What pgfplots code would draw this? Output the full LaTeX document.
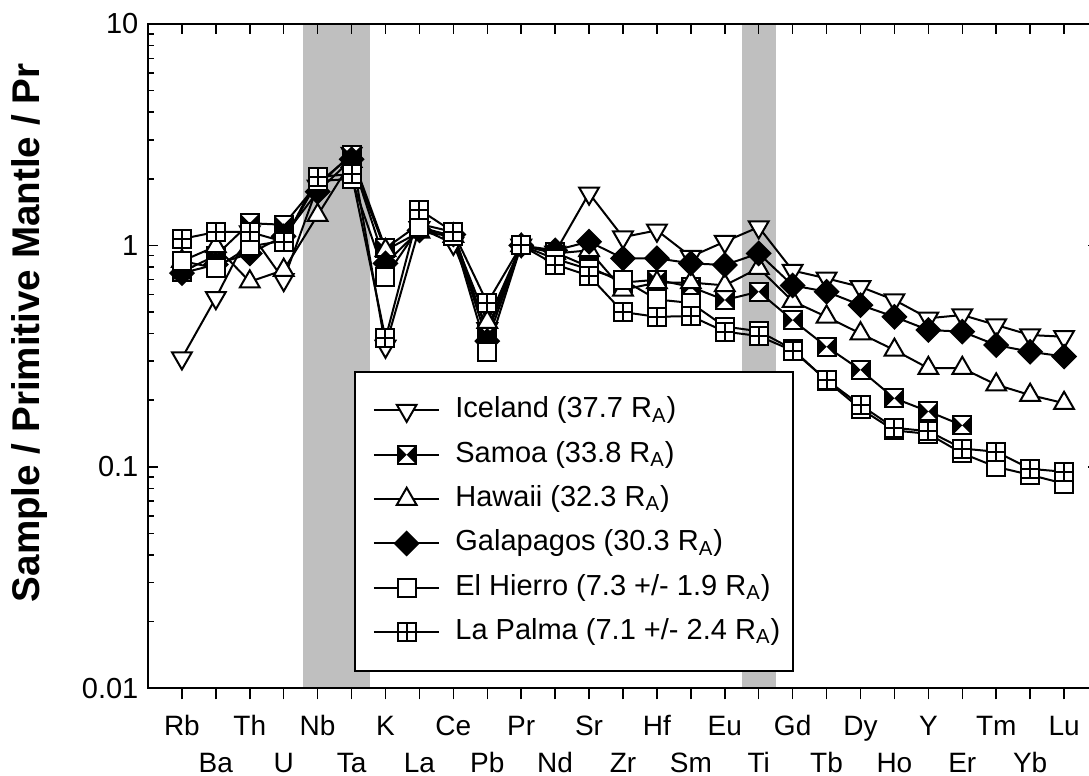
\documentclass[border=0pt]{standalone}
\usepackage{pgfplots}
\pgfplotsset{compat=1.18}
\usepackage{fontspec}
\setmainfont{Liberation Sans}

\pgfdeclareplotmark{sqplus}{%
  \pgfpathrectangle{\pgfqpoint{-\pgfplotmarksize}{-\pgfplotmarksize}}{\pgfqpoint{2\pgfplotmarksize}{2\pgfplotmarksize}}%
  \pgfusepathqfillstroke
  \pgfpathmoveto{\pgfqpoint{-\pgfplotmarksize}{0pt}}%
  \pgfpathlineto{\pgfqpoint{\pgfplotmarksize}{0pt}}%
  \pgfpathmoveto{\pgfqpoint{0pt}{-\pgfplotmarksize}}%
  \pgfpathlineto{\pgfqpoint{0pt}{\pgfplotmarksize}}%
  \pgfusepathqstroke
}
\pgfdeclareplotmark{bowsq}{%
  \pgfpathrectangle{\pgfqpoint{-\pgfplotmarksize}{-\pgfplotmarksize}}{\pgfqpoint{2\pgfplotmarksize}{2\pgfplotmarksize}}%
  \pgfusepathqfillstroke
  \pgfscope
  \pgfsetfillcolor{black}%
  \pgfpathmoveto{\pgfqpoint{-\pgfplotmarksize}{-\pgfplotmarksize}}%
  \pgfpathlineto{\pgfqpoint{0pt}{0pt}}%
  \pgfpathlineto{\pgfqpoint{-\pgfplotmarksize}{\pgfplotmarksize}}%
  \pgfpathclose
  \pgfpathmoveto{\pgfqpoint{\pgfplotmarksize}{-\pgfplotmarksize}}%
  \pgfpathlineto{\pgfqpoint{0pt}{0pt}}%
  \pgfpathlineto{\pgfqpoint{\pgfplotmarksize}{\pgfplotmarksize}}%
  \pgfpathclose
  \pgfusepathqfill
  \endpgfscope
}

\pgfplotstableread{
x  ice   sam   haw   gal   ehi   lpa
0  0.31  0.76  0.85  0.75  0.85  1.07
1  0.58  0.90  0.99  0.82  0.79  1.15
2  1.15  1.26  0.686 0.92  0.99  1.15
3  0.70  1.24  0.774 1.10  1.05  1.04
4  1.85  1.90  1.37  1.75  1.95  2.04
5  2.60  2.55  2.40  2.45  2.00  2.10
6  0.35  0.97  0.95  0.83  0.72  0.38
7  1.20  1.25  1.15  1.17  1.21  1.45
8  1.02  1.15  1.10  1.12  1.10  1.15
9  0.42  0.40  0.45  0.37  0.33  0.55
10 1.00  1.00  1.00  1.00  1.00  1.00
11 0.93  0.93  0.92  0.95  0.87  0.82
12 1.72  0.80  0.95  1.04  0.78  0.73
13 1.09  0.68  0.63  0.875 0.70  0.50
14 1.17  0.70  0.68  0.875 0.57  0.476
15 0.89  0.65  0.68  0.83  0.55  0.48
16 1.04  0.567 0.66  0.816 0.43  0.408
17 1.21  0.618 0.79  0.92  0.41  0.39
18 0.77  0.46  0.56  0.66  0.34  0.335
19 0.71  0.349 0.476 0.618 0.245 0.247
20 0.65  0.274 0.40  0.538 0.183 0.19
21 0.567 0.204 0.337 0.476 0.146 0.15
22 0.469 0.178 0.279 0.415 0.141 0.145
23 0.485 0.154 0.279 0.408 0.115 0.121
24 0.437 nan   0.235 0.355 0.10  0.117
25 0.394 nan   0.211 0.331 0.092 0.098
26 0.387 nan   0.194 0.315 0.084 0.095
}\data

\begin{document}
\begin{tikzpicture}
\pgfplotsset{
  base/.style={scale only axis, width=475pt, height=332.15pt,
    xmin=-1, xmax=27, axis line style={line width=1pt},
    every tick/.style={black, line width=0.75pt}},
  ser/.style={black, line width=1pt, mark options={solid, line width=1pt}},
}
% axis carrying the bottom ticks and their two rows of labels
\begin{axis}[base, ymin=0, ymax=1, ytick=\empty,
  xtick={0,2,...,26},
  xticklabels={Rb,Th,Nb,K,Ce,Pr,Sr,Hf,Eu,Gd,Dy,Y,Tm,Lu},
  extra x ticks={1,3,...,25},
  extra x tick labels={Ba,U,Ta,La,Pb,Nd,Zr,Sm,Ti,Tb,Ho,Er,Yb},
  extra x tick style={xticklabel style={yshift=-18.5pt}},
  xtick pos=lower, tick align=outside, major tick length=5.5pt,
  xticklabel shift=0pt,
  xticklabel style={font=\fontsize{14}{16}\selectfont, anchor=base, yshift=-18.35pt},
]
\end{axis}
% main axis with data
\begin{axis}[base, ymode=log, ymin=0.01, ymax=10,
  axis on top,
  xtick={0,...,26}, xticklabels={}, xtick pos=upper,
  tick align=inside, major tick length=5pt, minor tick length=3.2pt,
  ytick={0.01,0.1,1,10}, yticklabels={0.01,0.1,1,10},
  yticklabel style={font=\fontsize{14.5}{16}\selectfont, xshift=-1.3pt},
  ylabel={\textbf{Sample / Primitive Mantle / Pr}},
  ylabel style={at={(axis description cs:-0.1242,0.535)}, anchor=center,
    font=\fontsize{19.3}{22}\selectfont},
  legend style={at={(axis description cs:0.2168,0.4777)}, anchor=north west,
    draw=black, line width=1pt, fill=white,
    font=\fontsize{14.5}{17}\selectfont,
    inner xsep=6.5pt, inner ysep=12pt, row sep=7.67pt, column sep=7.5pt,
    nodes={inner sep=0pt, text height=11pt, text depth=3.5pt}},
  legend cell align=left,
  legend image code/.code={\path (-2.5pt,0pt); \draw[mark repeat=2,mark phase=2] plot coordinates {(0cm,0cm) (0.575cm,0cm) (1.15cm,0cm)};},
]
\addplot[draw=none, fill=black!25, forget plot] coordinates {(3.57,0.01) (5.53,0.01) (5.53,10) (3.57,10)} -- cycle;
\addplot[draw=none, fill=black!25, forget plot] coordinates {(16.5,0.01) (17.5,0.01) (17.5,10) (16.5,10)} -- cycle;

\addplot[ser, mark=triangle*, mark size=5.7pt, mark options={rotate=180, fill=white}] table[x=x, y=ice] {\data};
\addlegendentry{Iceland (37.7 R\textsubscript{A})}
\addplot[ser, mark=bowsq, mark size=4.5pt, mark options={fill=white}, unbounded coords=discard] table[x=x, y=sam] {\data};
\addlegendentry{Samoa (33.8 R\textsubscript{A})}
\addplot[ser, mark=triangle*, mark size=5.7pt, mark options={fill=white}] table[x=x, y=haw] {\data};
\addlegendentry{Hawaii (32.3 R\textsubscript{A})}
\addplot[ser, mark=square*, mark size=4.1pt, mark options={rotate=45, fill=black}] table[x=x, y=gal] {\data};
\addlegendentry{Galapagos (30.3 R\textsubscript{A})}
\addplot[ser, mark=square*, mark size=4.5pt, mark options={fill=white}] table[x=x, y=ehi] {\data};
\addlegendentry{El Hierro (7.3 +/- 1.9 R\textsubscript{A})}
\addplot[ser, mark=sqplus, mark size=4.5pt, mark options={fill=white}] table[x=x, y=lpa] {\data};
\addlegendentry{La Palma (7.1 +/- 2.4 R\textsubscript{A})}
\end{axis}
\pgfresetboundingbox
\path[use as bounding box] (-74pt,-43.85pt) rectangle (470.5pt,344.15pt);
\end{tikzpicture}
\end{document}
